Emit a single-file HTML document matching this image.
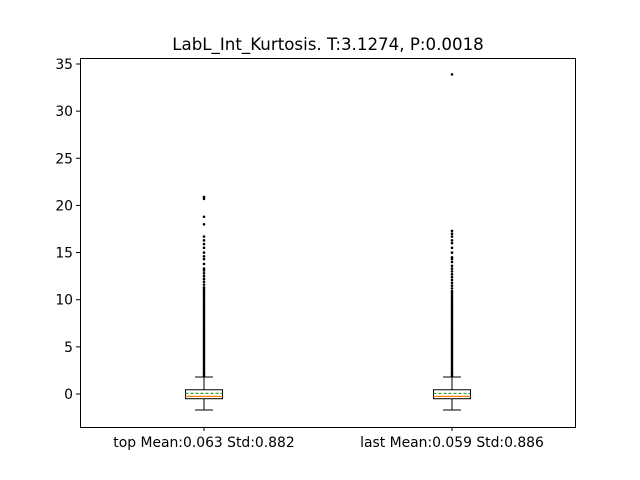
<!DOCTYPE html>
<html><head><meta charset="utf-8"><style>
body{margin:0;background:#fff;}
svg{display:block;font-family:"DejaVu Sans","Liberation Sans",sans-serif;}
</style></head><body>
<svg id="chart" width="640" height="480" viewBox="0 0 640 480">
<rect x="0" y="0" width="640" height="480" fill="#fff"/>
<text x="328" y="50" font-size="16.67" text-anchor="middle">LabL_Int_Kurtosis. T:3.1274, P:0.0018</text>
<g id="marks"></g>
<rect x="80.5" y="58.5" width="495" height="369" fill="none" stroke="#000" stroke-width="1"/>
<g id="axes"></g>
</svg>
<script>
const categories = ["top Mean:0.063 Std:0.882", "last Mean:0.059 Std:0.886"];
const q1 = [-0.5, -0.5];
const q3 = [0.45, 0.45];
const medians = [-0.25, -0.25];
const means = [0.063, 0.059];
const whiskLow = [-1.7, -1.7];
const whiskHigh = [1.8, 1.8];
const denseTop = [1.9,2.1,2.3,2.5,2.7,2.9,3.1,3.3,3.5,3.7,3.9,4.1,4.3,4.5,4.7,4.9,5.1,5.3,5.5,5.7,5.9,6.1,6.3,6.5,6.7,6.9,7.1,7.3,7.5,7.7,7.9,8.1,8.3,8.5,8.7,8.9,9.1,9.3,9.5,9.7,9.9,10.1,10.3,10.5,10.7,10.9,11.1,11.3,11.6,11.9,12.2,12.5,12.8,13.1,13.3,13.8,14.3,14.6,15.0,15.5,15.9,16.3,16.7,18.0,18.8,20.7,20.9];
const denseLast = [1.9,2.1,2.3,2.5,2.7,2.9,3.1,3.3,3.5,3.7,3.9,4.1,4.3,4.5,4.7,4.9,5.1,5.3,5.5,5.7,5.9,6.1,6.3,6.5,6.7,6.9,7.1,7.3,7.5,7.7,7.9,8.1,8.3,8.5,8.7,8.9,9.1,9.3,9.5,9.7,9.9,10.1,10.3,10.5,10.7,10.9,11.2,11.5,11.8,12.1,12.4,12.7,13.0,13.3,13.6,14.0,14.3,14.5,15.0,15.5,16.0,16.3,16.7,17.0,17.3,33.9];
const outliers = [denseTop, denseLast];
const yTicks = [0,5,10,15,20,25,30,35];

const NS="http://www.w3.org/2000/svg";
const y = v => 394 - v*(330/35);
const x = i => 204 + i*248;
const marks=document.getElementById('marks'), axes=document.getElementById('axes');
function mk(tag, attrs, parent){const e=document.createElementNS(NS,tag);for(const k in attrs)e.setAttribute(k,attrs[k]);parent.appendChild(e);return e;}

yTicks.forEach(t=>{
  const g=mk('g',{},axes);
  
  
  mk('line',{x1:76,x2:80,y1:y(t),y2:y(t),stroke:'#000'},g);
  const tx=mk('text',{x:73,y:y(t)+5,'font-size':13.9,'text-anchor':'end'},g);tx.textContent=t;
});
categories.forEach((c,i)=>{
  const g=mk('g',{},axes);
  
  
  mk('line',{x1:x(i),x2:x(i),y1:427,y2:431,stroke:'#000'},g);
  const tx=mk('text',{x:x(i),y:447,'font-size':13.9,'text-anchor':'middle'},g);tx.textContent=c;

  const b=mk('g',{},marks);
  
  
  const cx=x(i);
  outliers[i].forEach(v=>{
    const p=mk('circle',{cx:cx,cy:y(v),r:1.3,fill:'#000'},b);
    
    
  });
  mk('line',{x1:cx,x2:cx,y1:y(q3[i]),y2:y(whiskHigh[i]),stroke:'#000'},b);
  mk('line',{x1:cx,x2:cx,y1:y(q1[i]),y2:y(whiskLow[i]),stroke:'#000'},b);
  mk('line',{x1:cx-9,x2:cx+9,y1:y(whiskHigh[i]),y2:y(whiskHigh[i]),stroke:'#000'},b);
  mk('line',{x1:cx-9,x2:cx+9,y1:y(whiskLow[i]),y2:y(whiskLow[i]),stroke:'#000'},b);
  mk('rect',{x:cx-18.5,y:y(q3[i]),width:37,height:y(q1[i])-y(q3[i]),fill:'#fff',stroke:'#000'},b);
  mk('line',{x1:cx-18.5,x2:cx+18.5,y1:y(medians[i]),y2:y(medians[i]),stroke:'#ff7f0e','stroke-width':1.2},b);
  mk('line',{x1:cx-18.5,x2:cx+18.5,y1:y(means[i]),y2:y(means[i]),stroke:'#2ca02c','stroke-width':1.2,'stroke-dasharray':'3,2'},b);
});
</script>
</body></html>
